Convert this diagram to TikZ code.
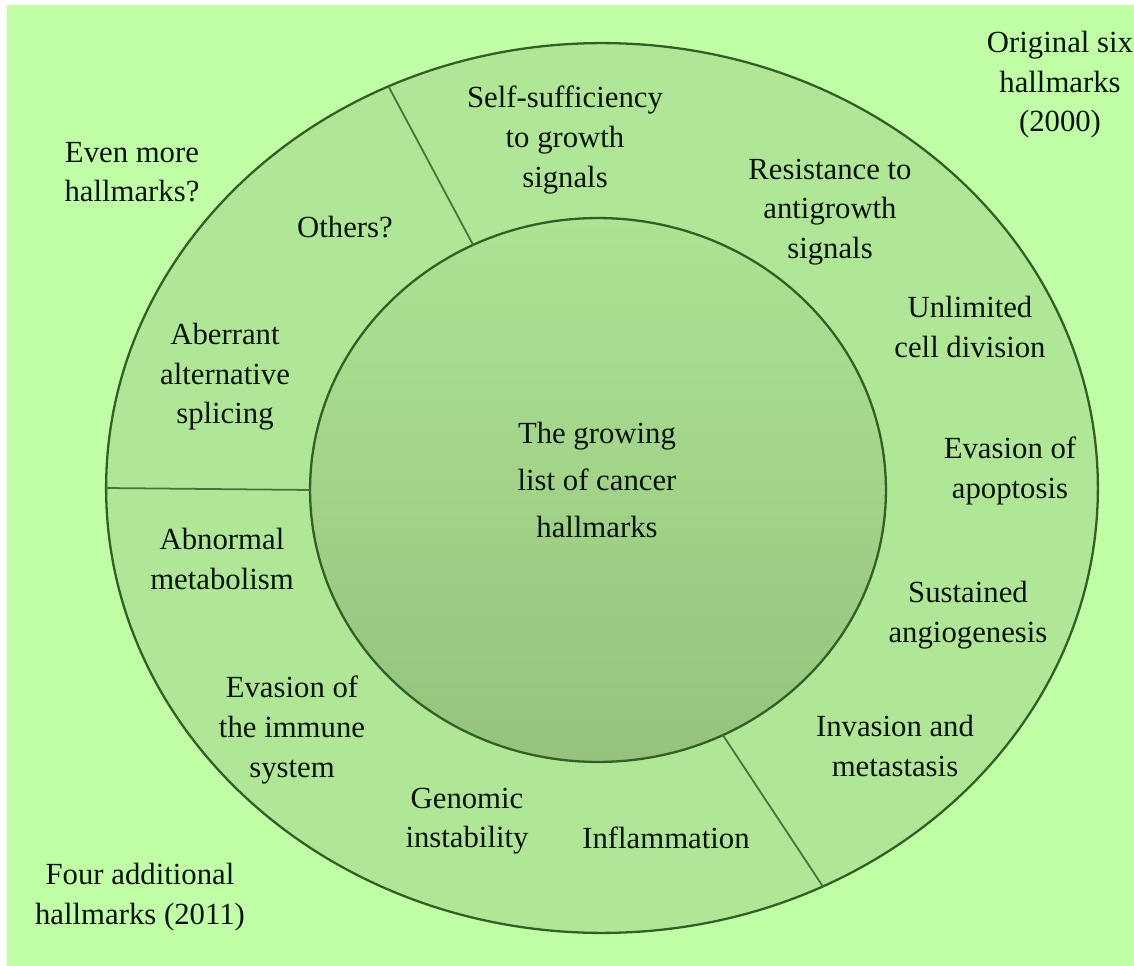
\documentclass[tikz,border=0pt]{standalone}
\usepackage{fontspec}
\setmainfont{Liberation Serif}
\usepackage{xcolor}
\usetikzlibrary{shapes.geometric}

\definecolor{bggreen}{HTML}{C0FFA6}
\definecolor{ringgreen}{HTML}{B0E797}
\definecolor{topgreen}{HTML}{ADE393}
\definecolor{botgreen}{HTML}{95C37D}
\definecolor{linegreen}{HTML}{335F26}
\definecolor{inkgreen}{HTML}{081206}

\begin{document}
\begin{tikzpicture}[x=0.02cm,y=-0.02cm,
  lbl/.style={align=center,text=inkgreen,font=\fontsize{17.5}{22.5}\selectfont},
  ring/.style={ellipse,draw=linegreen,line width=1.3pt,inner sep=0pt,outer sep=0pt},
  divider/.style={draw=linegreen!85!ringgreen,line width=1pt}]
  \useasboundingbox (0,0) rectangle (1134,966);
  \fill[white] (0,0) rectangle (1134,966);
  \fill[bggreen] (7,5) rectangle (1140,972);

  % rings
  \node[ring,fill=ringgreen,minimum width=19.84cm,minimum height=17.8cm] (outer) at (602,488) {};
  \node[ring,top color=topgreen,bottom color=botgreen,minimum width=11.52cm,minimum height=10.88cm] (inner) at (598,490) {};

  \draw[divider] (inner.117) -- (outer.118);
  \draw[divider] (inner.-63) -- (outer.-61.6);
  \draw[divider] (inner.180) -- (outer.180);

  \node[lbl] (center) at (597,480) {The growing\\[4pt]list of cancer\\[4pt]hallmarks};

  % original six
  \node[lbl] (orig) at (1060,85) {Original six\\hallmarks\\(2000)};
  \node[lbl] (self) at (565,140) {Self-sufficiency\\to growth\\signals};
  \node[lbl] (resist) at (830,212) {Resistance to\\antigrowth\\signals};
  \node[lbl] (unlim) at (970,327) {Unlimited\\cell division};
  \node[lbl] (apop) at (1010,471) {Evasion of\\apoptosis};
  \node[lbl] (angio) at (968,615) {Sustained\\angiogenesis};
  \node[lbl] (invas) at (895,746) {Invasion and\\metastasis};

  % even more
  \node[lbl] (more) at (132,172) {Even more\\hallmarks?};
  \node[lbl] (others) at (345,227) {Others?};
  \node[lbl] (splice) at (225,377) {Aberrant\\alternative\\splicing};

  % four additional
  \node[lbl] (metab) at (222,559) {Abnormal\\metabolism};
  \node[lbl] (immune) at (292,730) {Evasion of\\the immune\\system};
  \node[lbl] (genom) at (467,821) {Genomic\\instability};
  \node[lbl] (inflam) at (666,838) {Inflammation};
  \node[lbl] (four) at (140,897) {Four additional\\hallmarks (2011)};
\end{tikzpicture}
\end{document}
